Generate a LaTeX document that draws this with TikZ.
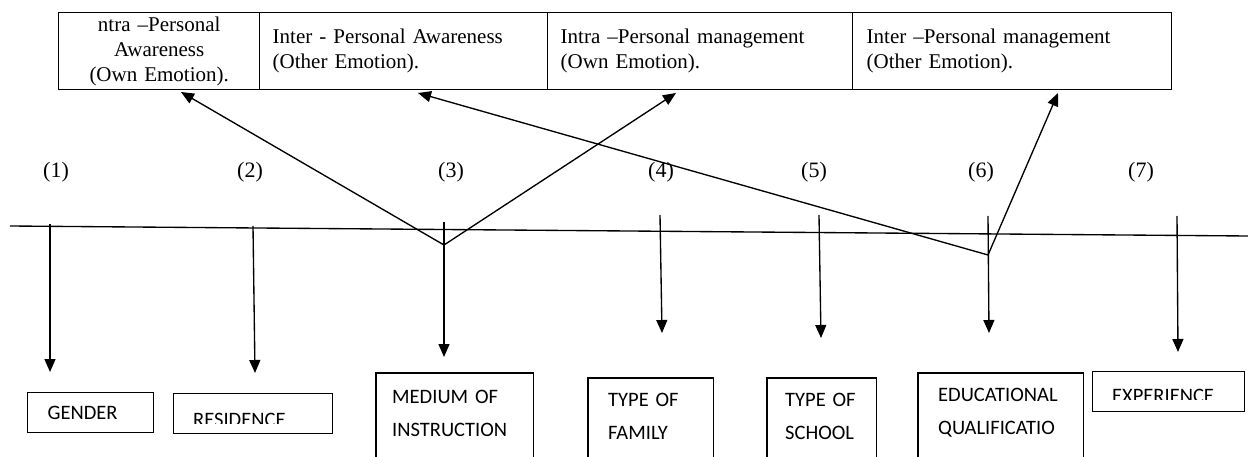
\documentclass[tikz,border=0pt]{standalone}
\usepackage{fontspec}
\setmainfont{Liberation Serif}
\newfontfamily\carlfont{Carlito}
\usetikzlibrary{arrows.meta}
\begin{document}
\begin{tikzpicture}[x=1pt,y=-1pt,
  conn/.style={line width=1.35pt},
  arr/.style={conn,-{Triangle[length=13pt,width=11pt]}},
  cell/.style={draw,line width=1.4pt,anchor=north west,inner ysep=0pt,minimum height=77pt,font=\fontsize{21}{25}\selectfont},
  numlabel/.style={font=\fontsize{22}{26}\selectfont,inner sep=0pt},
  sans/.style={font=\carlfont\fontsize{20.5}{33}\selectfont},
  closedbox/.style={sans,draw,line width=1.3pt,anchor=north west,inner ysep=0pt,align=left},
  openbox/.style={sans,anchor=north west,inner ysep=0pt,align=left},
  boxline/.style={line width=1.3pt},
]
\useasboundingbox (0,0) rectangle (1248,457);
\clip (0,0) rectangle (1248,457);

% top row of cells
\node[cell,inner xsep=0pt,text width=201pt,align=center] (c1) at (58,12) {ntra –Personal\\Awareness\\(Own Emotion).};
\node[cell,inner xsep=13pt,text width=262pt,align=left] (c2) at (259,12) {Inter - Personal Awareness\\(Other Emotion).};
\node[cell,inner xsep=13pt,text width=279pt,align=left] (c3) at (547,12) {Intra –Personal management\\(Own Emotion).};
\node[cell,inner xsep=14pt,text width=291pt,align=left] (c4) at (852,12) {Inter –Personal management\\(Other Emotion).};

% numbers
\node[numlabel] (n1) at (56,172) {(1)};
\node[numlabel] (n2) at (250,172) {(2)};
\node[numlabel] (n3) at (451,172) {(3)};
\node[numlabel] (n4) at (661,172) {(4)};
\node[numlabel] (n5) at (814,172) {(5)};
\node[numlabel] (n6) at (981,172) {(6)};
\node[numlabel] (n7) at (1141,172) {(7)};

% bottom boxes
\node[closedbox,minimum width=126pt,minimum height=40pt,inner xsep=20pt,text width=86pt] (gender) at (27,392) {GENDER};
\node[draw,boxline,anchor=north west,minimum width=159pt,minimum height=40pt] (residence) at (173,393) {};
\begin{scope}
\clip (173,393) rectangle (332,423);
\node[sans,anchor=base west,inner sep=0pt] (residencetext) at (193,426) {RESIDENCE};
\end{scope}

\node[openbox,minimum width=157pt,minimum height=81pt,inner xsep=16pt,text width=125pt] (medium) at (376,373) {MEDIUM OF\\INSTRUCTION};
\draw[boxline] ([yshift=-40pt]medium.south west) -- (medium.north west) -- (medium.north east) -- ([yshift=-40pt]medium.south east);

\node[openbox,minimum width=125pt,minimum height=77pt,inner xsep=20pt,text width=85pt] (family) at (588,378) {TYPE OF\\FAMILY};
\draw[boxline] ([yshift=-40pt]family.south west) -- (family.north west) -- (family.north east) -- ([yshift=-40pt]family.south east);

\node[openbox,minimum width=109pt,minimum height=77pt,inner xsep=18pt,text width=73pt] (school) at (767,378) {TYPE OF\\SCHOOL};
\draw[boxline] ([yshift=-40pt]school.south west) -- (school.north west) -- (school.north east) -- ([yshift=-40pt]school.south east);

\node[openbox,minimum width=165pt,minimum height=79pt,inner xsep=20pt,text width=125pt] (educ) at (918,373) {EDUCATIONAL\\QUALIFICATIO};
\draw[boxline] ([yshift=-40pt]educ.south west) -- (educ.north west) -- (educ.north east) -- ([yshift=-40pt]educ.south east);

\node[draw,boxline,anchor=north west,minimum width=152pt,minimum height=40pt] (experience) at (1092,371) {};
\begin{scope}
\clip (1092,371) rectangle (1244,399.5);
\node[sans,anchor=base west,inner sep=0pt] (experiencetext) at (1112,402.5) {EXPERIENCE};
\end{scope}

% horizontal line
\coordinate (hl) at (10,226);
\coordinate (hr) at (1248,236);
\draw[conn] (hl) -- (hr);

% vertical arrows
\coordinate (s1) at (50,224);   \coordinate (e1) at (50,372);
\coordinate (s2) at (253,226);  \coordinate (e2) at (255,373);
\coordinate (s3) at (444,222);  \coordinate (e3) at (444,357);
\coordinate (s4) at (660,215);  \coordinate (e4) at (662,333);
\coordinate (s5) at (819,215);  \coordinate (e5) at (821,338);
\coordinate (s6) at (988,216);  \coordinate (e6) at (989,333);
\coordinate (s7) at (1177,216); \coordinate (e7) at (1178,352);
\foreach \i in {1,...,7} { \draw[arr] (s\i) -- (e\i); }

% diagonal arrows to the top cells
\coordinate (v3) at (444,245);
\coordinate (v6) at (988,255);
\coordinate (t1) at (181,92);
\coordinate (t2) at (418,93);
\coordinate (t3) at (676,93);
\coordinate (t4) at (1058,93);
\draw[arr] (v3) -- (t1);
\draw[arr] (v3) -- (t3);
\draw[arr] (v6) -- (t2);
\draw[arr] (v6) -- (t4);
\end{tikzpicture}
\end{document}
